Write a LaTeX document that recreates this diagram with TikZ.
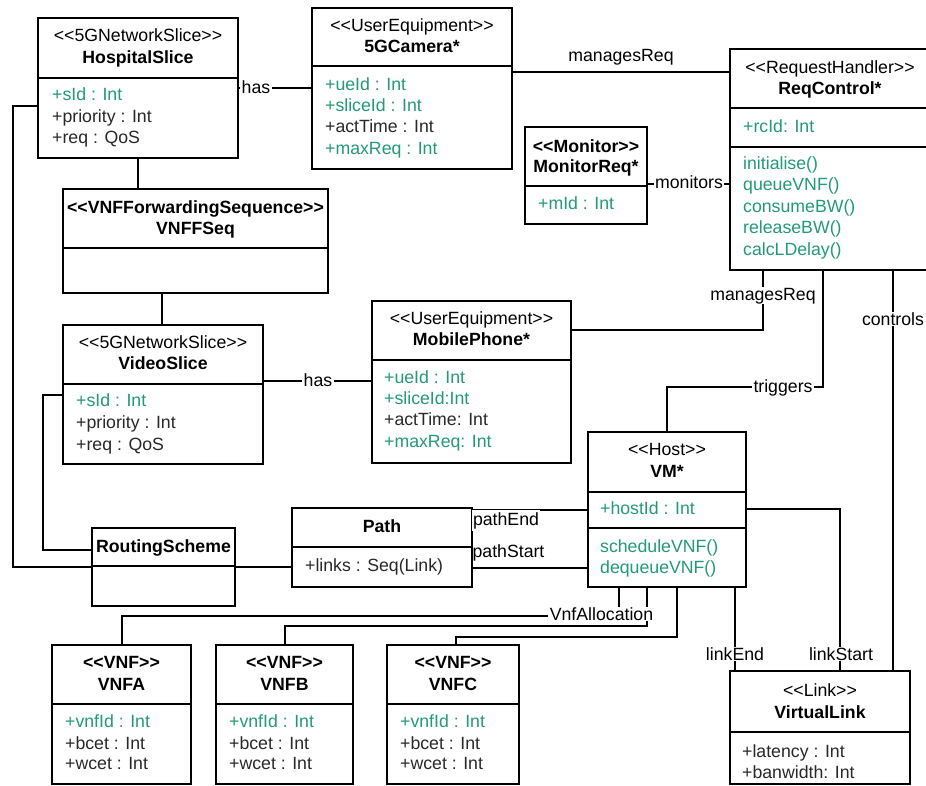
\documentclass[tikz,border=0pt]{standalone}
\usepackage{fontspec}
\setmainfont{Liberation Sans}
\definecolor{attrgreen}{RGB}{34,154,118}
\definecolor{attrgrey}{RGB}{40,40,40}
% stereotype brackets, kept apart so they do not turn into guillemets
\newcommand{\st}[1]{<{}<#1>{}>}
% a class box: name, left, top, width, height
\newcommand{\umlbox}[5]{\node[box, minimum width=#4pt, minimum height=#5pt] (#1) at (#2,#3) {};}
% a compartment rule across a class box at height y
\newcommand{\umlrule}[2]{\draw[ln] (#1.west |- 0,#2) -- (#1.east |- 0,#2);}
\begin{document}
\begin{tikzpicture}[x=1pt,y=-1pt,
  ln/.style={line width=1.5pt, draw=black},
  box/.style={ln, anchor=north west, inner sep=0pt, outer sep=0pt},
  txt/.style={font=\fontsize{17.7}{21}\selectfont, inner sep=0pt, anchor=base},
  stereo/.style={txt},
  cname/.style={txt, font=\fontsize{17.7}{21}\selectfont\bfseries},
  attr/.style={txt, anchor=base west, text=attrgrey},
  gattr/.style={attr, text=attrgreen},
  lbl/.style={txt, fill=white, inner xsep=1.5pt, inner ysep=0.6pt},
]
\useasboundingbox (0,0) rectangle (926,785);
\clip (0,0) rectangle (926,785);

% ---------- classes ----------
% HospitalSlice
\umlbox{hosp}{38}{18}{200}{140}
\umlrule{hosp}{78}
\node[stereo] (hospS) at (138,41) {\st{5GNetworkSlice}};
\node[cname] (hospN) at (138,63) {HospitalSlice};
\node[gattr] (hospA1) at (52,100) {+sId : Int};
\node[attr] (hospA2) at (52,122) {+priority : Int};
\node[attr] (hospA3) at (52,143) {+req : QoS};

% 5GCamera
\umlbox{cam}{312}{8}{200}{161}
\umlrule{cam}{66}
\node[stereo] (camS) at (412,31) {\st{UserEquipment}};
\node[cname] (camN) at (412,52) {5GCamera*};
\node[gattr] (camA1) at (325,90) {+ueId : Int};
\node[gattr] (camA2) at (325,111) {+sliceId : Int};
\node[attr] (camA3) at (325,132) {+actTime : Int};
\node[gattr] (camA4) at (325,154) {+maxReq : Int};

% ReqControl
\umlbox{req}{730}{49}{200}{221}
\umlrule{req}{108}
\umlrule{req}{147}
\node[stereo] (reqS) at (830,73) {\st{RequestHandler}};
\node[cname] (reqN) at (830,94) {ReqControl*};
\node[gattr] (reqA1) at (743,132) {+rcId: Int};
\node[gattr] (reqM1) at (743,169) {initialise()};
\node[gattr] (reqM2) at (743,190) {queueVNF()};
\node[gattr] (reqM3) at (743,212) {consumeBW()};
\node[gattr] (reqM4) at (743,233) {releaseBW()};
\node[gattr] (reqM5) at (743,255) {calcLDelay()};

% MonitorReq
\umlbox{mon}{525}{127}{122}{97}
\umlrule{mon}{186}
\node[cname] (monS) at (586,152) {\st{Monitor}};
\node[cname] (monN) at (586,172) {MonitorReq*};
\node[gattr] (monA1) at (538,209) {+mId : Int};

% VNFFSeq
\umlbox{seq}{63}{189}{265}{104}
\umlrule{seq}{248}
\node[cname] (seqS) at (195.5,213) {\st{VNFForwardingSequence}};
\node[cname] (seqN) at (195.5,234) {VNFFSeq};

% VideoSlice
\umlbox{vid}{63}{325}{200}{139}
\umlrule{vid}{384}
\node[stereo] (vidS) at (163,348) {\st{5GNetworkSlice}};
\node[cname] (vidN) at (163,369) {VideoSlice};
\node[gattr] (vidA1) at (76,406) {+sId : Int};
\node[attr] (vidA2) at (76,428) {+priority : Int};
\node[attr] (vidA3) at (76,450) {+req : QoS};

% MobilePhone
\umlbox{mob}{372}{301}{199}{162}
\umlrule{mob}{360}
\node[stereo] (mobS) at (471.5,324) {\st{UserEquipment}};
\node[cname] (mobN) at (471.5,345) {MobilePhone*};
\node[gattr] (mobA1) at (384,383) {+ueId : Int};
\node[gattr] (mobA2) at (384,404) {+sliceId:Int};
\node[attr] (mobA3) at (384,425) {+actTime: Int};
\node[gattr] (mobA4) at (384,447) {+maxReq: Int};

% VM
\umlbox{vm}{588}{432}{158}{155}
\umlrule{vm}{492}
\umlrule{vm}{528}
\node[stereo] (vmS) at (667,455) {\st{Host}};
\node[cname] (vmN) at (667,477) {VM*};
\node[gattr] (vmA1) at (600,514) {+hostId : Int};
\node[gattr] (vmM1) at (600,552) {scheduleVNF()};
\node[gattr] (vmM2) at (600,573) {dequeueVNF()};

% Path
\umlbox{path}{292}{508}{180}{79}
\umlrule{path}{547}
\node[cname] (pathN) at (382,532) {Path};
\node[attr] (pathA1) at (305,571) {+links : Seq(Link)};

% RoutingScheme
\umlbox{rs}{92}{528}{143}{78}
\umlrule{rs}{566}
\node[cname] (rsN) at (163.5,552) {RoutingScheme};

% VNFA
\umlbox{vnfa}{52}{645}{139}{139}
\umlrule{vnfa}{704}
\node[cname] (vnfaS) at (121.5,668) {\st{VNF}};
\node[cname] (vnfaN) at (121.5,690) {VNFA};
\node[gattr] (vnfaA1) at (65,727) {+vnfId : Int};
\node[attr] (vnfaA2) at (65,749) {+bcet : Int};
\node[attr] (vnfaA3) at (65,769) {+wcet : Int};

% VNFB
\umlbox{vnfb}{216}{645}{137}{139}
\umlrule{vnfb}{704}
\node[cname] (vnfbS) at (284.5,668) {\st{VNF}};
\node[cname] (vnfbN) at (284.5,690) {VNFB};
\node[gattr] (vnfbA1) at (229,727) {+vnfId : Int};
\node[attr] (vnfbA2) at (229,749) {+bcet : Int};
\node[attr] (vnfbA3) at (229,769) {+wcet : Int};

% VNFC
\umlbox{vnfc}{387}{645}{132}{139}
\umlrule{vnfc}{704}
\node[cname] (vnfcS) at (453,668) {\st{VNF}};
\node[cname] (vnfcN) at (453,690) {VNFC};
\node[gattr] (vnfcA1) at (400,727) {+vnfId : Int};
\node[attr] (vnfcA2) at (400,749) {+bcet : Int};
\node[attr] (vnfcA3) at (400,769) {+wcet : Int};

% VirtualLink
\umlbox{vl}{730}{671}{180}{113}
\umlrule{vl}{732}
\node[stereo] (vlS) at (820,696) {\st{Link}};
\node[cname] (vlN) at (820,718) {VirtualLink};
\node[attr] (vlA1) at (742,757) {+latency : Int};
\node[attr] (vlA2) at (742,778) {+banwidth: Int};

% ---------- associations ----------
\draw[ln] (hosp.east |- 0,88) -- (cam.west |- 0,88);
\node[lbl] (lHas1) at (256,93) {has};

\draw[ln] (cam.east |- 0,72) -- (req.west |- 0,72);
\node[txt] (lMan1) at (621,61) {managesReq};

\draw[ln] (hosp.south -| 138,0) -- (seq.north -| 138,0);
\draw[ln] (seq.south -| 162,0) -- (vid.north -| 162,0);

\draw[ln] (vid.east |- 0,381) -- (mob.west |- 0,381);
\node[lbl] (lHas2) at (318,386) {has};

\draw[ln] (mon.east |- 0,184) -- (req.west |- 0,184);
\node[lbl] (lMon) at (689,188) {monitors};

\draw[ln] (mob.east |- 0,330) -| (req.south -| 763,0);
\node[lbl] (lMan2) at (763,300) {managesReq};

\draw[ln] (req.south -| 823,0) |- (667,387) -- (vm.north -| 667,0);
\node[lbl] (lTrig) at (783,392) {triggers};

\draw[ln] (req.south -| 893,0) -- (vl.north -| 893,0);
\node[lbl] (lCtrl) at (893,325) {controls};

\draw[ln] (hosp.west |- 0,106) -| (13,567) -- (rs.west |- 0,567);
\draw[ln] (vid.west |- 0,395) -| (43,550) -- (rs.west |- 0,550);
\draw[ln] (rs.east |- 0,567) -- (path.west |- 0,567);

\draw[ln] (path.east |- 0,510) -- (vm.west |- 0,510);
\node[lbl, inner ysep=2pt] (lPEnd) at (506,525) {pathEnd};
\draw[ln] (path.east |- 0,568) -- (vm.west |- 0,568);
\node[txt] (lPStart) at (508.5,557) {pathStart};

\draw[ln] (vnfa.north -| 122,0) |- (619,616) -- (vm.south -| 619,0);
\draw[ln] (vnfb.north -| 285,0) |- (647,626) -- (vm.south -| 647,0);
\draw[ln] (vnfc.north -| 456,0) |- (677,637) -- (vm.south -| 677,0);
\node[lbl] (lAlloc) at (601.5,620) {VnfAllocation};

\draw[ln] (vm.south -| 735,0) -- (vl.north -| 735,0);
\node[lbl] (lLEnd) at (735,660) {linkEnd};
\draw[ln] (vm.east |- 0,509) -| (vl.north -| 840,0);
\node[lbl] (lLStart) at (841,660) {linkStart};
\end{tikzpicture}
\end{document}
